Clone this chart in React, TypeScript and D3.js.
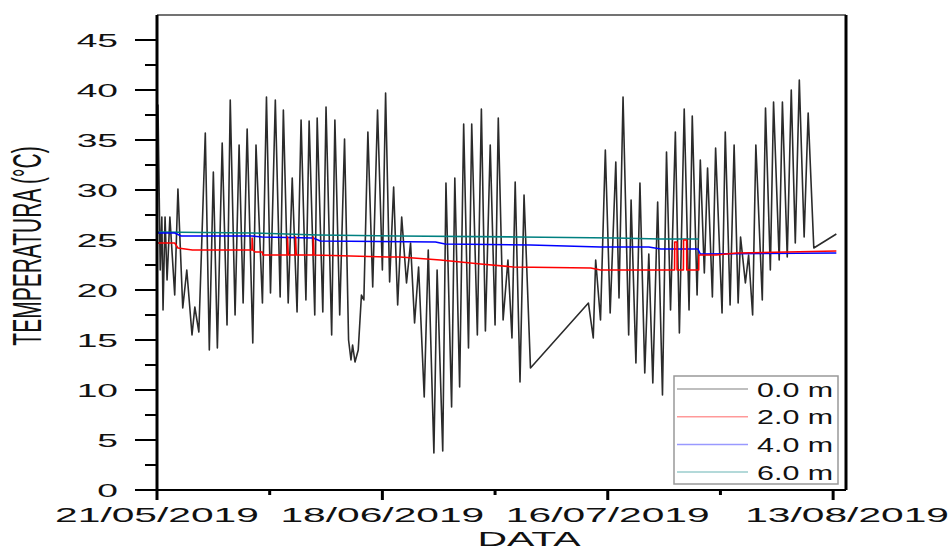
import { useEffect, useRef } from 'react'
import * as d3 from 'd3'

// days counted from 21/05/2019 00:00
const START = Date.UTC(2019, 4, 21)
const DAY = 86400000

const majorTickDates = ['2019-05-21', '2019-06-18', '2019-07-16', '2019-08-13']
const minorTickDates = ['2019-06-04', '2019-07-02', '2019-07-30']
const yMajorTicks = [0, 5, 10, 15, 20, 25, 30, 35, 40, 45]
const yMinorTicks = [2.5, 7.5, 12.5, 17.5, 22.5, 27.5, 32.5, 37.5, 42.5]

const seriesLabels = ['0.0 m', '2.0 m', '4.0 m', '6.0 m']
const seriesColors = ['#2b2b2b', '#ff0000', '#0000ff', '#008080']

// [day, temperature °C]
const surface: [number, number][] = [
  [0.0, 24.5], [0.12, 38.5], [0.4, 22], [0.6, 27.3], [0.75, 18], [1.0, 27.3], [1.25, 21],
  [1.6, 27.3], [2.2, 19.5], [2.6, 30.1], [3.2, 18.2], [3.7, 22], [4.35, 15.5], [4.7, 18.3],
  [5.2, 15.8], [6.0, 35.7], [6.5, 14], [7.0, 31.8], [7.5, 14.2], [8.1, 34.7], [8.7, 16.5],
  [9.1, 39], [9.7, 17.5], [10.2, 34.5], [10.7, 18.7], [11.2, 36.1], [11.9, 14.7], [12.3, 34.5],
  [13.1, 18.7], [13.6, 39.3], [14.1, 19.7], [14.7, 39], [15.3, 19.3], [15.7, 38], [16.3, 18.7],
  [16.8, 31.2], [17.4, 17.8], [17.9, 37], [18.5, 19], [18.9, 36.9], [19.6, 17.5], [19.9, 37.2],
  [20.6, 17.8], [21.0, 38.3], [21.7, 15.5], [22.1, 37], [22.7, 17.5], [23.3, 35.1], [23.8, 15],
  [24.1, 13], [24.3, 14.5], [24.6, 12.8], [25.0, 14], [25.4, 19.5], [25.7, 19], [26.2, 35.8],
  [26.8, 20.3], [27.4, 38], [28.0, 22], [28.4, 39.7], [28.9, 20.8], [29.4, 30.3], [29.9, 18.5],
  [30.4, 27.3], [31.0, 20.7], [31.5, 24.7], [32.0, 16.7], [32.5, 22.3], [33.2, 9.3], [33.7, 24],
  [34.4, 3.7], [34.8, 22], [35.5, 3.9], [35.9, 30.7], [36.6, 8.3], [37.0, 31.2], [37.6, 10.3],
  [38.1, 36.6], [38.7, 14.2], [39.1, 36.6], [39.8, 15.5], [40.3, 38.1], [40.8, 15.9], [41.4, 34.5],
  [42.0, 16.5], [42.4, 37.2], [43.0, 17], [43.6, 23], [44.1, 15.2], [44.5, 30.8], [45.1, 10.8],
  [45.6, 29.5], [46.4, 12.2],
  [53.6, 18.7], [54.2, 15.2], [54.5, 23], [55.1, 17], [55.7, 34], [56.3, 17.7], [57.0, 32.8],
  [57.4, 19.2], [57.9, 39.3], [58.6, 15.5], [58.9, 29], [59.5, 12.7], [60.0, 30.7], [60.6, 11.7],
  [61.1, 23.6], [61.6, 10.7], [62.2, 28.8], [62.8, 9.5], [63.3, 33.8], [63.8, 18], [64.4, 35.8],
  [64.9, 15.7], [65.5, 38.1], [66.1, 18], [66.5, 37.4], [67.1, 19.5], [67.5, 33], [68.0, 21.7],
  [68.4, 32.2], [69.0, 19.3], [69.4, 34.2], [70.2, 17.7], [70.6, 35.8], [71.2, 18.5], [71.7, 34.5],
  [72.2, 18.7], [72.5, 25.3], [73.1, 20.7], [73.5, 23.5], [74.0, 17.5], [74.4, 34.5], [75.2, 19],
  [75.6, 38.2], [76.2, 22], [76.6, 38.8], [77.3, 23], [77.7, 38.8], [78.3, 23.3], [78.8, 40],
  [79.3, 24.7], [79.8, 41], [80.4, 25.3], [80.9, 37.7], [81.6, 24.2], [84.4, 25.6],
]

const depth2m: [number, number][] = [
  [0, 24.7], [2.2, 24.7], [2.6, 24.2], [4.4, 24.0], [11.8, 24.0], [11.82, 25.2], [11.9, 24.0],
  [12.2, 23.8], [13.1, 23.8], [13.15, 23.5], [16.2, 23.5], [16.22, 25.3], [16.3, 23.5],
  [17.2, 23.5], [17.22, 25.3], [17.3, 23.5], [19.4, 23.5], [19.42, 25.3], [19.5, 23.5],
  [28.6, 23.3], [30.2, 23.3], [35.2, 23.0], [40.2, 22.6], [44.3, 22.3], [53.9, 22.2],
  [55.1, 22.0], [64.3, 22.0], [64.32, 24.8], [64.6, 24.8], [64.62, 22.0], [65.4, 22.0],
  [65.42, 25.0], [65.8, 25.0], [65.82, 22.0], [67.3, 22.0], [67.32, 23.5], [69.5, 23.5],
  [72, 23.7], [84.4, 23.9],
]

const depth4m: [number, number][] = [
  [0, 25.7], [2.2, 25.7], [3.0, 25.4], [11.8, 25.4], [13.1, 25.3], [19.4, 25.2], [20.3, 24.9],
  [34.6, 24.8], [35.8, 24.6], [46.4, 24.5], [55.1, 24.3], [61.1, 24.3], [62.6, 24.1],
  [67.2, 24.1], [67.5, 23.6], [84.4, 23.7],
]

const depth6m: [number, number][] = [
  [0, 25.8], [11.8, 25.7], [20, 25.5], [30, 25.4], [45, 25.3], [57, 25.2], [62.6, 25.1],
  [67.3, 25.1],
]

const FONT = '"Liberation Sans", Arial, sans-serif'

export default function App() {
  const svgRef = useRef<SVGSVGElement>(null)

  useEffect(() => {
    if (!svgRef.current) return
    const svg = d3.select(svgRef.current)
    svg.selectAll('*').remove()

    const left = 157, right = 846, top = 15, bottom = 490
    const parse = d3.utcParse('%Y-%m-%d')
    const fmt = d3.utcFormat('%d/%m/%Y')

    const x = d3.scaleUtc()
      .domain([new Date(START), new Date(START + 85.6 * DAY)])
      .range([left, right])
    const y = d3.scaleLinear().domain([0, 47.5]).range([bottom, top])

    const toDate = (d: number) => new Date(START + d * DAY)
    const line = d3.line<[number, number]>()
      .x(d => x(toDate(d[0])))
      .y(d => y(d[1]))

    // stretched text, the picture is wide
    const label = (g: any, tx: number, ty: number, txt: string, size: number, sx: number, anchor: string) =>
      g.append('text')
        .attr('transform', `translate(${tx},${ty}) scale(${sx},1)`)
        .attr('text-anchor', anchor)
        .style('font-family', FONT)
        .style('font-size', size + 'px')
        .attr('fill', '#111')
        .text(txt)

    // series
    const all = [surface, depth2m, depth4m, depth6m]
    const order = [0, 3, 2, 1]
    order.forEach(i => {
      svg.append('path')
        .datum(all[i])
        .attr('fill', 'none')
        .attr('stroke', seriesColors[i])
        .attr('stroke-width', i === 0 ? 1.6 : 1.6)
        .attr('stroke-linejoin', 'round')
        .attr('d', line)
    })

    // frame
    svg.append('line').attr('x1', left).attr('x2', right).attr('y1', top).attr('y2', top)
      .attr('stroke', '#444').attr('stroke-width', 1.5)
    svg.append('line').attr('x1', right).attr('x2', right).attr('y1', top).attr('y2', bottom)
      .attr('stroke', '#000').attr('stroke-width', 3)
    svg.append('line').attr('x1', left).attr('x2', left).attr('y1', top).attr('y2', bottom)
      .attr('stroke', '#000').attr('stroke-width', 3)
    svg.append('line').attr('x1', left).attr('x2', right).attr('y1', bottom).attr('y2', bottom)
      .attr('stroke', '#000').attr('stroke-width', 2)

    // y ticks
    yMajorTicks.forEach(v => {
      svg.append('line').attr('x1', 135).attr('x2', left).attr('y1', y(v)).attr('y2', y(v))
        .attr('stroke', '#000').attr('stroke-width', 2)
      label(svg, 118, y(v), String(v), 18.6, 2.0, 'end').attr('dy', '0.36em')
    })
    yMinorTicks.forEach(v => {
      svg.append('line').attr('x1', 145).attr('x2', left).attr('y1', y(v)).attr('y2', y(v))
        .attr('stroke', '#000').attr('stroke-width', 2)
    })

    // x ticks
    majorTickDates.forEach((s, i) => {
      const d = parse(s) as Date
      svg.append('line').attr('x1', x(d)).attr('x2', x(d)).attr('y1', bottom).attr('y2', bottom + 10)
        .attr('stroke', '#000').attr('stroke-width', 3)
      // last label sits a little right of its tick, as in the source
      const shift = i === majorTickDates.length - 1 ? 14 : 0
      label(svg, x(d) + shift, 522, fmt(d), 21, 1.94, 'middle')
    })
    minorTickDates.forEach(s => {
      const d = parse(s) as Date
      svg.append('line').attr('x1', x(d)).attr('x2', x(d)).attr('y1', bottom).attr('y2', bottom + 5)
        .attr('stroke', '#000').attr('stroke-width', 3)
    })

    // axis titles
    label(svg, 529, 546, 'DATA', 20, 2.05, 'middle')
    svg.append('text')
      .attr('transform', `translate(41,246) scale(1.9,1) rotate(-90)`)
      .attr('text-anchor', 'middle')
      .style('font-family', FONT)
      .style('font-size', '21px')
      .attr('fill', '#111')
      .text('TEMPERATURA (°C)')

    // legend
    const lg = svg.append('g')
    lg.append('rect').attr('x', 674).attr('y', 376).attr('width', 164).attr('height', 108)
      .attr('fill', '#fff').attr('stroke', '#999').attr('stroke-width', 1.5)
    seriesLabels.forEach((s, i) => {
      const ry = 389 + i * 27.7
      lg.append('line').attr('x1', 677).attr('x2', 748).attr('y1', ry).attr('y2', ry)
        .attr('stroke', seriesColors[i]).attr('stroke-opacity', 0.4).attr('stroke-width', 1.5)
      label(lg, 757, ry, s, 21, 1.45, 'start').attr('dy', '0.36em')
    })
  }, [])

  return (
    <svg ref={svgRef} width={949} height={549}
      style={{ position: 'absolute', left: 0, top: 0, background: '#fff' }} />
  )
}
